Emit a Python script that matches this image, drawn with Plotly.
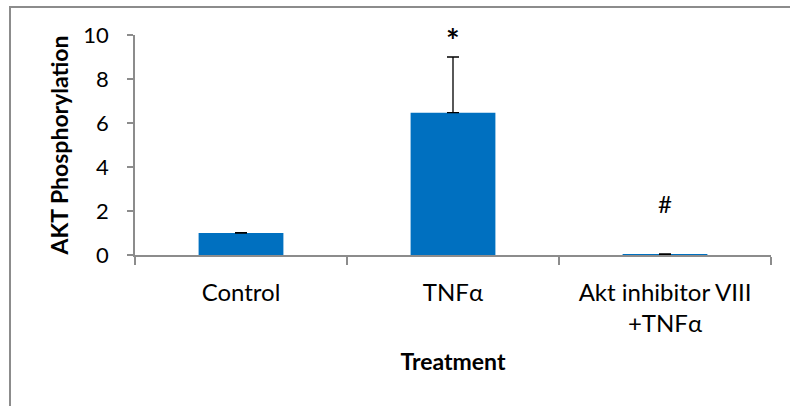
import plotly.graph_objects as go

categories = ["Control", "TNFα", "Akt inhibitor VIII<br>+TNFα"]
values = [1.0, 6.47, 0.03]
errors = [0.02, 2.53, 0.02]
sig_marks = ["", "<b>*</b>", "#"]

FONT = "Lato"
fig = go.Figure()
fig.add_trace(go.Bar(
    x=categories, y=values, width=0.4,
    marker=dict(color="#0070C0", line=dict(width=0)),
    error_y=dict(type="data", array=errors, symmetric=False, arrayminus=[0, 0, 0],
                 color="black", thickness=1.3, width=6),
))

shifts = [0, 17, 50]
sizes = [24, 32, 24]
for c, v, e, m, s, fs in zip(categories, values, errors, sig_marks, shifts, sizes):
    if m:
        fig.add_annotation(x=c, y=v + e, yshift=s, text=m, showarrow=False,
                           font=dict(family=FONT, size=fs, color="black"))

W, H = 790, 406
L, R, T, B = 135, 19, 35, 151
pw, ph = W - L - R, H - T - B
def px(x): return (x - L) / pw
def py(y): return (H - B - y) / ph

fig.add_shape(type="line", xref="paper", yref="paper",
              x0=px(9), x1=px(790), y0=py(7), y1=py(7),
              line=dict(color="#8c8c8c", width=2))
fig.add_shape(type="line", xref="paper", yref="paper",
              x0=px(10), x1=px(10), y0=py(6), y1=py(406),
              line=dict(color="#8c8c8c", width=2))

fig.update_layout(
    width=W, height=H, margin=dict(l=L, r=R, t=T, b=B),
    paper_bgcolor="white", plot_bgcolor="white",
    showlegend=False, bargap=0.6,
    font=dict(family=FONT, size=24, color="black"),
    xaxis=dict(
        showline=True, linecolor="#8c8c8c", linewidth=1.5,
        ticks="outside", tickson="boundaries", ticklen=8, tickcolor="#8c8c8c", tickwidth=1.5,
        tickfont=dict(family=FONT, size=24, color="black"), ticklabelstandoff=15,
        title=dict(text="<b>Treatment</b>", font=dict(family=FONT, size=23, color="black"), standoff=18),
    ),
    yaxis=dict(
        range=[0, 10], dtick=2, showgrid=False, zeroline=False,
        showline=True, linecolor="#8c8c8c", linewidth=1.5,
        ticks="outside", ticklen=6, tickcolor="#8c8c8c", tickwidth=1.5,
        tickfont=dict(family=FONT, size=22, color="black"), ticklabelstandoff=14,
        title=dict(text="<b>AKT Phosphorylation</b>", font=dict(family=FONT, size=23, color="black"), standoff=8),
    ),
)

fig.write_html("out.html", config={"displayModeBar": False},
               post_script="document.body.style.margin='0';")
